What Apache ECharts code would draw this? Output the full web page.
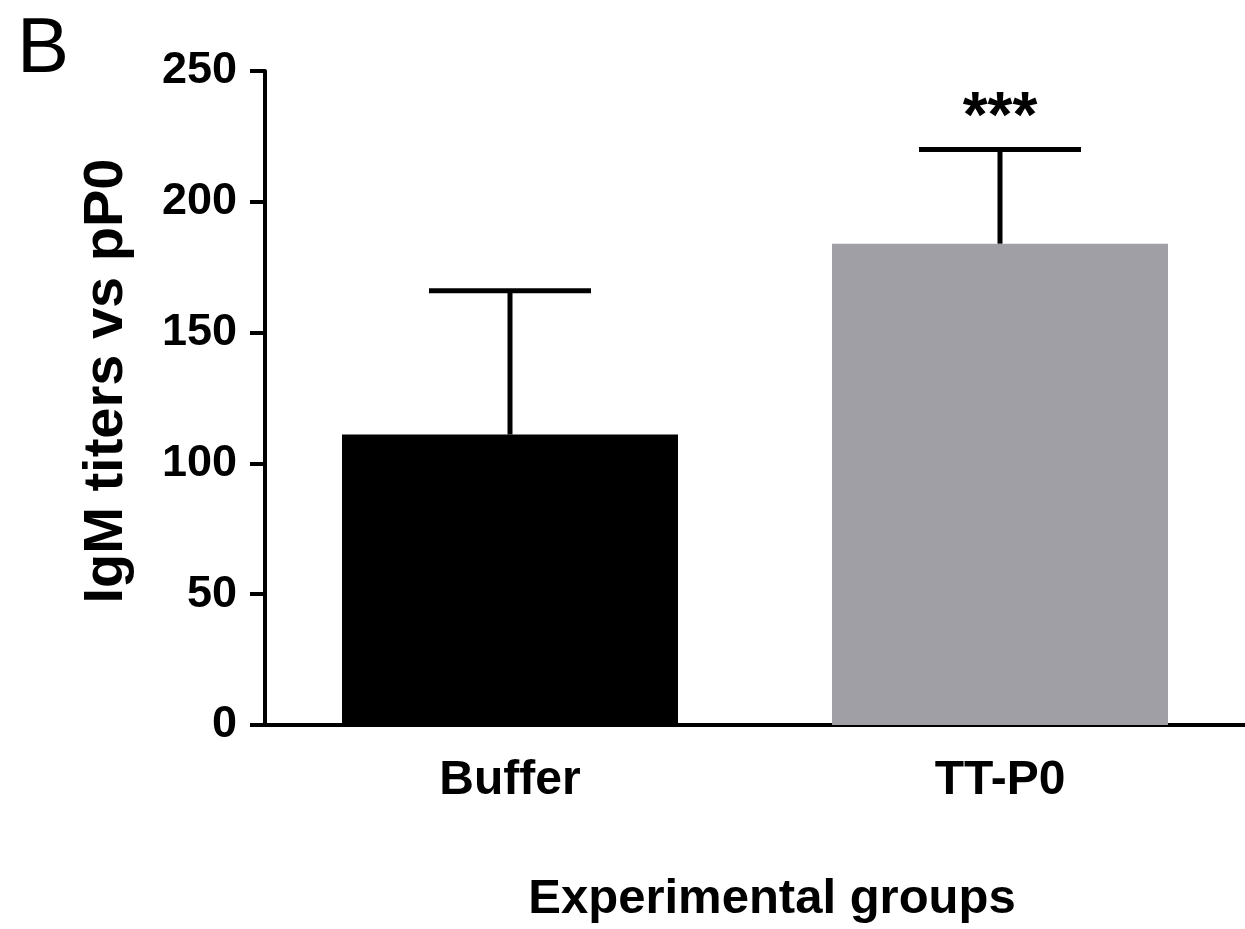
<!DOCTYPE html>
<html>
<head>
<meta charset="utf-8">
<style>
  html, body { margin: 0; padding: 0; background: #fff; }
  #chart { width: 1245px; height: 929px; }
</style>
<script src="https://cdn.jsdelivr.net/npm/echarts@6/dist/echarts.min.js"></script>
</head>
<body>
<div id="chart"></div>
<script>
  // values
  const groups = ["Buffer", "TT-P0"];
  const means = [111, 184];
  const upperErr = [166, 220]; // mean + SD (only upper whisker shown)
  const sigMarks = ["", "***"];
  const barColors = ["#000000", "#a09fa6"];
  const yTicks = [0, 50, 100, 150, 200, 250];

  const FONT = "'Liberation Sans', Arial, Helvetica, sans-serif";

  const chart = echarts.init(document.getElementById("chart"));

  function renderErrorBar(params, api) {
    const idx = api.value(0);
    const base = api.coord([idx, api.value(1)]);
    const top = api.coord([idx, api.value(2)]);
    const half = 81;
    const style = { stroke: "#000", lineWidth: 5 };
    const children = [
      { type: "line", shape: { x1: base[0], y1: base[1], x2: top[0], y2: top[1] }, style: style },
      { type: "line", shape: { x1: top[0] - half, y1: top[1], x2: top[0] + half, y2: top[1] }, style: style }
    ];
    const mark = sigMarks[params.dataIndex];
    if (mark) {
      children.push({
        type: "text",
        style: {
          text: mark,
          x: top[0],
          y: top[1] + 2,
          align: "center",
          verticalAlign: "bottom",
          fill: "#000",
          font: "bold 64px " + FONT
        }
      });
    }
    return { type: "group", children: children };
  }

  const option = {
    backgroundColor: "#fff",
    animation: false,
    title: {
      text: "B",
      left: 12,
      top: 6,
      textStyle: { fontSize: 78, fontWeight: "normal", color: "#000", fontFamily: FONT }
    },
    grid: { left: 265, right: -2, top: 71, bottom: 193 },
    xAxis: {
      type: "category",
      data: groups,
      name: "Experimental groups",
      nameLocation: "middle",
      nameGap: 150,
      nameTextStyle: { fontSize: 49, fontWeight: "bold", color: "#000", fontFamily: FONT, padding: [0, 0, 0, 34] },
      axisLine: { lineStyle: { color: "#000", width: 4 } },
      axisTick: { show: false },
      axisLabel: { margin: 32, fontSize: 48, fontWeight: "bold", color: "#000", fontFamily: FONT }
    },
    yAxis: {
      type: "value",
      min: yTicks[0],
      max: yTicks[yTicks.length - 1],
      interval: 50,
      name: "IgM titers vs pP0",
      nameLocation: "middle",
      nameGap: 130,
      nameRotate: 90,
      nameTextStyle: { fontSize: 56, fontWeight: "bold", color: "#000", fontFamily: FONT, padding: [0, 0, 0, 34] },
      splitLine: { show: false },
      axisLine: { show: true, lineStyle: { color: "#000", width: 4 } },
      axisTick: { show: true, length: 15, lineStyle: { color: "#000", width: 4 } },
      axisLabel: { margin: 28, fontSize: 45, fontWeight: "bold", color: "#000", fontFamily: FONT }
    },
    series: [
      {
        type: "bar",
        barWidth: 336,
        data: means.map((v, i) => ({ value: v, itemStyle: { color: barColors[i] } })),
        z: 2
      },
      {
        type: "custom",
        renderItem: renderErrorBar,
        data: groups.map((g, i) => [i, means[i], upperErr[i]]),
        z: 3
      }
    ]
  };

  chart.setOption(option);
</script>
</body>
</html>
